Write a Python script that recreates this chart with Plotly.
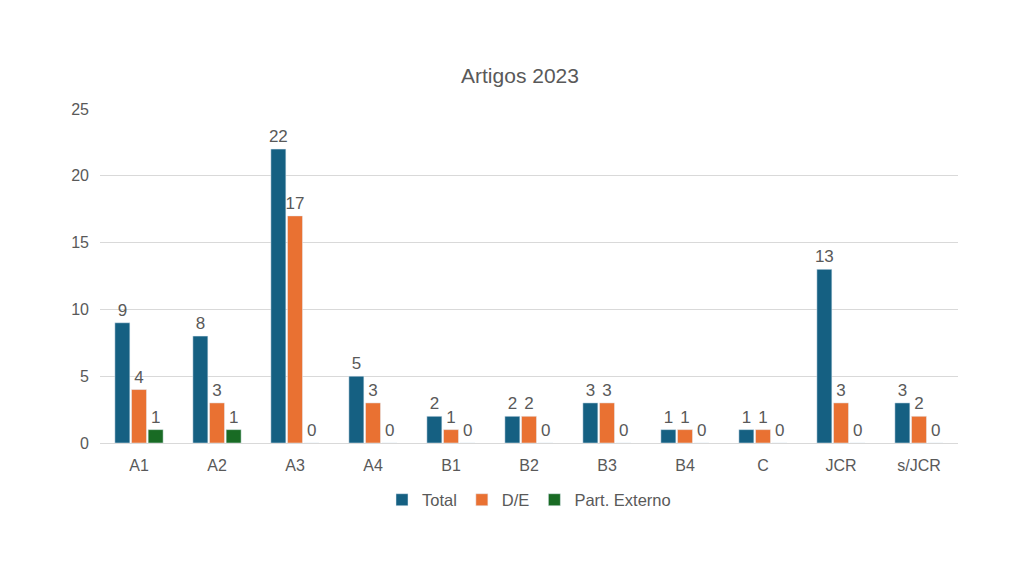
import plotly.graph_objects as go

categories = ["A1", "A2", "A3", "A4", "B1", "B2", "B3", "B4", "C", "JCR", "s/JCR"]
total = [9, 8, 22, 5, 2, 2, 3, 1, 1, 13, 3]
de = [4, 3, 17, 3, 1, 2, 3, 1, 1, 3, 2]
part_externo = [1, 1, 0, 0, 0, 0, 0, 0, 0, 0, 0]

series = [("Total", total, "#156082"), ("D/E", de, "#E97132"), ("Part. Externo", part_externo, "#196B24")]

fig = go.Figure()
for name, vals, col in series:
    fig.add_trace(go.Bar(
        x=categories, y=vals, name=name, marker_color=col,
        text=[str(v) for v in vals], textposition="outside", cliponaxis=False,
        constraintext="none",
        textfont=dict(size=17, color="#595959", family="Liberation Sans, Arial"),
    ))

fig.update_layout(
    width=1024, height=576,
    paper_bgcolor="white", plot_bgcolor="white",
    margin=dict(l=92, r=74, t=101, b=141, autoexpand=False),
    barmode="group", bargap=0.36, bargroupgap=0.1,
    font=dict(family="Liberation Sans, Arial", color="#595959", size=16),
    title=dict(text="Artigos 2023", x=0.5, xanchor="center", y=1 - 68/576, yanchor="middle",
               font=dict(size=21, color="#595959")),
    legend=dict(orientation="h", x=0.5, xanchor="center", y=1 - 492/576, yref="container",
                yanchor="middle", itemwidth=30, font=dict(size=16.5, color="#595959")),
    yaxis=dict(range=[0, 25], dtick=5, gridcolor="#D9D9D9", showline=False, zeroline=False,
               automargin=False,
               tickfont=dict(size=16, color="#595959"), ticks="", ticklabelstandoff=10),
    xaxis=dict(showline=True, linecolor="#D9D9D9", tickfont=dict(size=16, color="#595959"),
               automargin=False, ticklabelstandoff=8),
)
fig.write_html("out.html")
